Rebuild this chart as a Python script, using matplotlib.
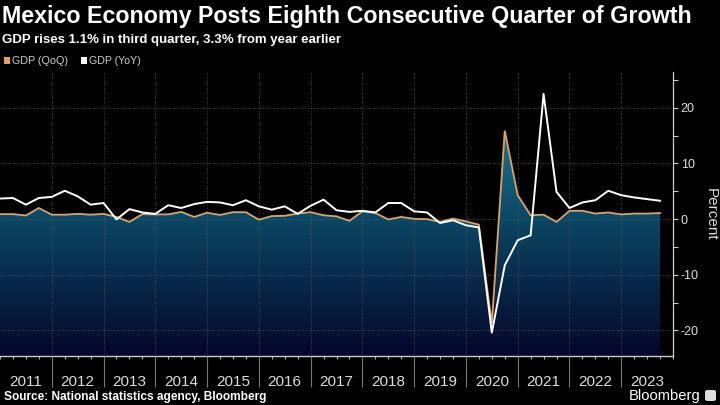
import numpy as np
import pandas as pd
import matplotlib
matplotlib.use("Agg")
import matplotlib.pyplot as plt
from matplotlib.colors import LinearSegmentedColormap
from matplotlib.patches import PathPatch, Rectangle, FancyBboxPatch
from matplotlib.path import Path

plt.rcParams['font.family'] = ['Liberation Sans Narrow', 'Liberation Sans', 'DejaVu Sans']

# ---------------- data ----------------
quarters = pd.period_range('2010Q4', '2023Q3', freq='Q')
gdp_qoq = [0.9, 0.9, 0.65, 2.0, 0.8, 0.8, 0.95, 0.8, 0.95, 0.4,
           -0.5, 0.9, 0.85, 0.85, 1.3, 0.4, 1.15, 0.75, 1.25, 1.25,
           -0.1, 0.55, 0.6, 1.0, 1.25, 0.7, 0.5, -0.3, 1.4, 1.1,
           -0.05, 0.4, 0.05, 0.0, -0.5, 0.1, -0.4, -1.0, -18.8, 15.9,
           4.3, 0.7, 0.8, -0.5, 1.5, 1.5, 1.0, 1.2, 0.85, 1.0,
           1.0, 1.1]
gdp_yoy = [3.7, 3.8, 2.6, 3.8, 4.0, 5.1, 4.1, 2.6, 2.9, -0.05,
           1.8, 1.2, 0.95, 2.5, 2.0, 2.7, 3.1, 3.0, 2.5, 3.4,
           2.3, 1.7, 2.3, 0.95, 2.4, 3.5, 1.6, 1.3, 1.5, 1.2,
           2.9, 2.9, 1.4, 1.2, -0.7, -0.2, -1.1, -1.5, -20.4, -8.3,
           -3.8, -2.9, 22.5, 4.9, 2.0, 3.0, 3.4, 5.1, 4.3, 3.9,
           3.6, 3.3]
year_labels = [str(y) for y in range(2011, 2024)]
y_ticks = [-20, -10, 0, 10, 20]
y_tick_labels = ['-20', '-10', '0', '10', '20']

title = "Mexico Economy Posts Eighth Consecutive Quarter of Growth"
subtitle = "GDP rises 1.1% in third quarter, 3.3% from year earlier"
source = "Source: National statistics agency, Bloomberg"

# quarter-end positions in decimal years
x = np.array([q.year + q.quarter / 4.0 for q in quarters])
qoq = np.array(gdp_qoq)
yoy = np.array(gdp_yoy)

W, H = 720, 405
fig = plt.figure(figsize=(7.2, 4.05), dpi=100, facecolor='black')
ax = fig.add_axes([0, 1 - 356 / H, 673 / W, (356 - 71.7) / H])
ax.set_facecolor('black')

YMIN, YMAX = -24.6, 26.5
XMIN, XMAX = 2011.0, 2024.0

# gradient filled area under QoQ
fb = ax.fill_between(x, qoq, YMIN, facecolor='none', edgecolor='none')
path = fb.get_paths()[0]
clip = PathPatch(path, transform=ax.transData, facecolor='none', edgecolor='none')
ax.add_patch(clip)
cmap = LinearSegmentedColormap.from_list('g', [(0.0, '#04062a'), (0.6, '#0b4663'), (1.0, '#1b7690')])
grad = np.linspace(0, 1, 256).reshape(-1, 1)
im = ax.imshow(grad, extent=[XMIN, XMAX, YMIN, qoq.max()], origin='lower',
               cmap=cmap, aspect='auto', zorder=1, interpolation='bicubic')
im.set_clip_path(clip)

ax.plot(x, qoq, color='#e2a25c', lw=1.3, zorder=3, solid_joinstyle='miter')
ax.plot(x, yoy, color='white', lw=1.4, zorder=4)

ax.set_xlim(XMIN, XMAX)
ax.set_ylim(YMIN, YMAX)

# y axis on right
ax.yaxis.tick_right()
ax.yaxis.set_label_position('right')
ax.set_yticks(y_ticks)
ax.set_yticklabels(y_tick_labels)
ax.set_yticks([-15, -5, 5, 15, 25], minor=True)
ax.tick_params(axis='y', which='both', direction='out', length=3.5, width=0.8,
               color='#cccccc', labelcolor='#dddddd', labelsize=9, pad=2)
ax.set_ylabel('Percent', rotation=270, color='#dddddd', fontsize=11, labelpad=14)

# x axis: year separators as major ticks, year labels as minor ticks
ax.set_xticks(np.arange(2012, 2024))
ax.set_xticklabels([])
ax.set_xticks(np.arange(2011.5, 2024.0, 1.0), minor=True)
ax.set_xticklabels(year_labels, minor=True)
ax.tick_params(axis='x', which='major', direction='out', length=22, width=0.8, color='#777777')
ax.tick_params(axis='x', which='minor', length=0, labelcolor='#dddddd', labelsize=11, pad=14)

sec = ax.secondary_xaxis('bottom')
sec.set_xticks(np.arange(2011.0, 2024.01, 0.25))
sec.set_xticklabels([])
sec.tick_params(axis='x', direction='out', length=2.5, width=0.7, color='#bbbbbb')
sec.spines['bottom'].set_visible(False)

for s in ['left', 'top']:
    ax.spines[s].set_visible(False)
ax.spines['right'].set_color('#cccccc')
ax.spines['right'].set_linewidth(0.9)
ax.spines['bottom'].set_color('#cccccc')
ax.spines['bottom'].set_linewidth(1.0)

ax.set_axisbelow(False)
ax.grid(True, which='major', color='#5a5a5a', linestyle=(0, (1, 2)), linewidth=0.6)

# titles
t1 = fig.text(2 / W, 1 - 23 / H, title, color='white', fontsize=16, fontweight='bold',
              ha='left', va='baseline')
t2 = fig.text(2 / W, 1 - 43 / H, subtitle, color='white', fontsize=11, fontweight='bold',
              ha='left', va='baseline')
t3 = fig.text(4 / W, 1 - 400 / H, source, color='white', fontsize=9, fontweight='bold',
              ha='left', va='baseline')
t4 = fig.text(701 / W, 1 - 400 / H, 'Bloomberg', color='white', fontsize=11,
              ha='right', va='baseline')

# legend
fig.patches.append(Rectangle((4 / W, 1 - 63.5 / H), 6 / W, 6.5 / H, transform=fig.transFigure,
                             facecolor='#e8a04e', edgecolor='none'))
l1 = fig.text(12 / W, 1 - 63.5 / H, 'GDP (QoQ)', color='#cccccc', fontsize=8,
              ha='left', va='baseline')
fig.patches.append(Rectangle((81 / W, 1 - 63.5 / H), 6 / W, 6.5 / H, transform=fig.transFigure,
                             facecolor='white', edgecolor='none'))
l2 = fig.text(89 / W, 1 - 63.5 / H, 'GDP (YoY)', color='#cccccc', fontsize=8,
              ha='left', va='baseline')

# bloomberg icon
fig.patches.append(FancyBboxPatch((705 / W, 1 - 401 / H), 11 / W, 11 / H,
                                  boxstyle='round,pad=0,rounding_size=0.004',
                                  transform=fig.transFigure, facecolor='#dddddd', edgecolor='none'))

fig.canvas.draw()
r = fig.canvas.get_renderer()
def fit(t, target):
    w = t.get_window_extent(r).width
    t.set_fontsize(t.get_fontsize() * target / w)
fit(t1, 688)
fit(t2, 340)
fit(t3, 264)
fit(t4, 71)
fit(l1, 56)
fit(l2, 52)

fig.savefig('out.png', dpi=100, facecolor='black')
